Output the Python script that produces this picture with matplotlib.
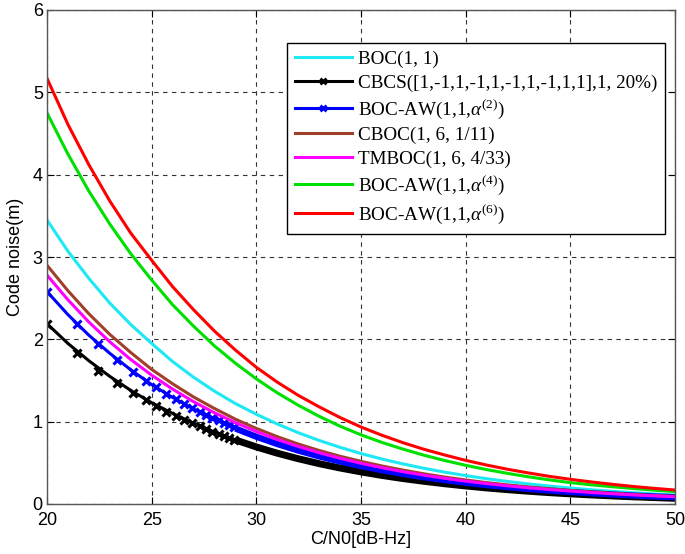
import numpy as np
import matplotlib
matplotlib.use("Agg")
import matplotlib.pyplot as plt

plt.rcParams["mathtext.fontset"] = "custom"
plt.rcParams["mathtext.rm"] = "Liberation Serif"
plt.rcParams["mathtext.it"] = "Liberation Serif:italic"

# C/N0 grid (dB-Hz) for the line curves
cn0 = [20, 21, 22, 23, 24, 25, 26, 27, 28, 29, 30, 31, 32, 33, 34, 35, 36, 37, 38, 39, 40,
       41, 42, 43, 44, 45, 46, 47, 48, 49, 50]

boc11 = [3.45, 3.07, 2.74, 2.44, 2.18, 1.95, 1.73, 1.54, 1.37, 1.22, 1.09, 0.972, 0.866, 0.772,
         0.688, 0.613, 0.546, 0.487, 0.434, 0.387, 0.345, 0.307, 0.274, 0.244, 0.218, 0.194,
         0.173, 0.154, 0.137, 0.122, 0.109]
cbcs = [2.19, 1.95, 1.74, 1.55, 1.38, 1.23, 1.10, 0.98, 0.873, 0.778, 0.693, 0.617, 0.550, 0.490,
        0.437, 0.390, 0.347, 0.309, 0.276, 0.246, 0.219, 0.195, 0.174, 0.155, 0.138, 0.123,
        0.110, 0.098, 0.087, 0.078, 0.069]
bocaw2 = [2.58, 2.30, 2.05, 1.83, 1.63, 1.45, 1.295, 1.154, 1.029, 0.917, 0.817, 0.728, 0.649,
          0.578, 0.516, 0.460, 0.410, 0.365, 0.325, 0.290, 0.258, 0.230, 0.205, 0.183, 0.163,
          0.145, 0.130, 0.116, 0.103, 0.092, 0.082]
cboc = [2.90, 2.59, 2.31, 2.06, 1.84, 1.635, 1.46, 1.30, 1.16, 1.03, 0.918, 0.818, 0.729, 0.650,
        0.580, 0.518, 0.462, 0.412, 0.367, 0.327, 0.292, 0.260, 0.232, 0.207, 0.185, 0.165,
        0.147, 0.131, 0.117, 0.104, 0.093]
tmboc = [2.78, 2.48, 2.21, 1.97, 1.755, 1.565, 1.395, 1.243, 1.108, 0.988, 0.880, 0.784, 0.699,
         0.623, 0.555, 0.495, 0.441, 0.393, 0.351, 0.312, 0.278, 0.248, 0.221, 0.197, 0.176,
         0.157, 0.140, 0.125, 0.111, 0.099, 0.088]
bocaw4 = [4.75, 4.25, 3.80, 3.40, 3.04, 2.72, 2.42, 2.16, 1.92, 1.71, 1.52, 1.35, 1.20, 1.065,
          0.945, 0.84, 0.748, 0.667, 0.593, 0.528, 0.470, 0.418, 0.372, 0.330, 0.293, 0.260,
          0.233, 0.210, 0.188, 0.168, 0.150]
bocaw6 = [5.17, 4.61, 4.12, 3.68, 3.29, 2.96, 2.64, 2.36, 2.10, 1.87, 1.66, 1.48, 1.32, 1.18,
          1.05, 0.935, 0.835, 0.745, 0.665, 0.595, 0.530, 0.473, 0.422, 0.377, 0.336, 0.300,
          0.268, 0.239, 0.213, 0.190, 0.170]

# separately visible marker points (low C/N0 region)
mk_cn0 = [20, 21.42, 22.45, 23.35, 24.12, 24.75, 25.2, 25.7, 26.16, 26.56, 26.92, 27.3, 27.6,
          27.9, 28.2, 28.45, 28.7, 28.95]
mk_cbcs = [2.19, 1.84, 1.62, 1.47, 1.345, 1.264, 1.19, 1.12, 1.07, 1.02, 0.98, 0.945, 0.915,
           0.88, 0.855, 0.83, 0.805, 0.78]
mk_bocaw2 = [2.58, 2.19, 1.94, 1.75, 1.60, 1.50, 1.42, 1.34, 1.27, 1.215, 1.17, 1.12, 1.085,
             1.05, 1.015, 0.985, 0.955, 0.93]

labels = ["BOC(1, 1)",
          "CBCS([1,-1,1,-1,1,-1,1,-1,1,1],1, 20%)",
          r"BOC-AW(1,1,$\alpha^{\mathrm{(2)}}$)",
          "CBOC(1, 6, 1/11)",
          "TMBOC(1, 6, 4/33)",
          r"BOC-AW(1,1,$\alpha^{\mathrm{(4)}}$)",
          r"BOC-AW(1,1,$\alpha^{\mathrm{(6)}}$)"]

W, H = 685, 554
fig = plt.figure(figsize=(W / 100, H / 100), dpi=100)
ax = fig.add_axes([47 / W, (554 - 504) / H, (675 - 47) / W, (504 - 10) / H])

x = np.array(cn0)
band = x >= 28.9
lw = 2.2

h_cyan, = ax.plot(cn0, boc11, color="#1ee8f5", lw=lw)

# CBCS (black) with markers
ax.plot(cn0, cbcs, color="black", lw=lw)
ax.plot(x[band], np.array(cbcs)[band], color="black", lw=5.0, solid_capstyle="butt")
ax.plot(mk_cn0, mk_cbcs, ls="none", marker="x", ms=5.5, mew=2.2, color="black")
h_black, = ax.plot([], [], color="black", lw=lw, marker="x", ms=4, mew=2.0)

# BOC-AW alpha2 (blue) with markers
ax.plot(cn0, bocaw2, color="#0000ff", lw=lw)
ax.plot(x[band], np.array(bocaw2)[band], color="#0000ff", lw=4.5, solid_capstyle="butt")
ax.plot(mk_cn0, mk_bocaw2, ls="none", marker="x", ms=5.5, mew=2.2, color="#0000ff")
h_blue, = ax.plot([], [], color="#0000ff", lw=lw, marker="x", ms=4, mew=2.0)

h_brown, = ax.plot(cn0, cboc, color="#a0402a", lw=lw)
h_mag, = ax.plot(cn0, tmboc, color="#ff00ff", lw=lw)
h_green, = ax.plot(cn0, bocaw4, color="#00e000", lw=lw)
h_red, = ax.plot(cn0, bocaw6, color="#ff0000", lw=lw)

ax.set_xlim(20, 50)
ax.set_ylim(0, 6)
ax.set_xticks([20, 25, 30, 35, 40, 45, 50])
ax.set_yticks([0, 1, 2, 3, 4, 5, 6])
ax.grid(True, color="#333333", ls=(0, (4, 4)), lw=0.8)
ax.tick_params(direction="in", top=True, right=True, length=5, width=0.8, labelsize=13)
ax.tick_params(axis="x", pad=6)
ax.tick_params(axis="y", pad=3)
for lab in ax.get_xticklabels() + ax.get_yticklabels():
    lab.set_fontfamily("Liberation Sans")
for s in ax.spines.values():
    s.set_color("#555555")
    s.set_linewidth(1.0)

ax.set_xlabel("C/N0[dB-Hz]", fontsize=13, family="Liberation Sans", labelpad=1)
ax.set_ylabel("Code noise(m)", fontsize=13, family="Liberation Sans", labelpad=6)

leg = ax.legend([h_cyan, h_black, h_blue, h_brown, h_mag, h_green, h_red], labels,
                loc="upper right", bbox_to_anchor=(0.984, 0.933),
                prop={"family": "Liberation Serif", "size": 13.8},
                handlelength=3.0, handletextpad=0.3, labelspacing=0.31,
                borderpad=0.4, borderaxespad=0.0, fancybox=False, framealpha=1,
                edgecolor="black")
leg.get_frame().set_linewidth(1.0)

fig.savefig("out.png", dpi=100)
